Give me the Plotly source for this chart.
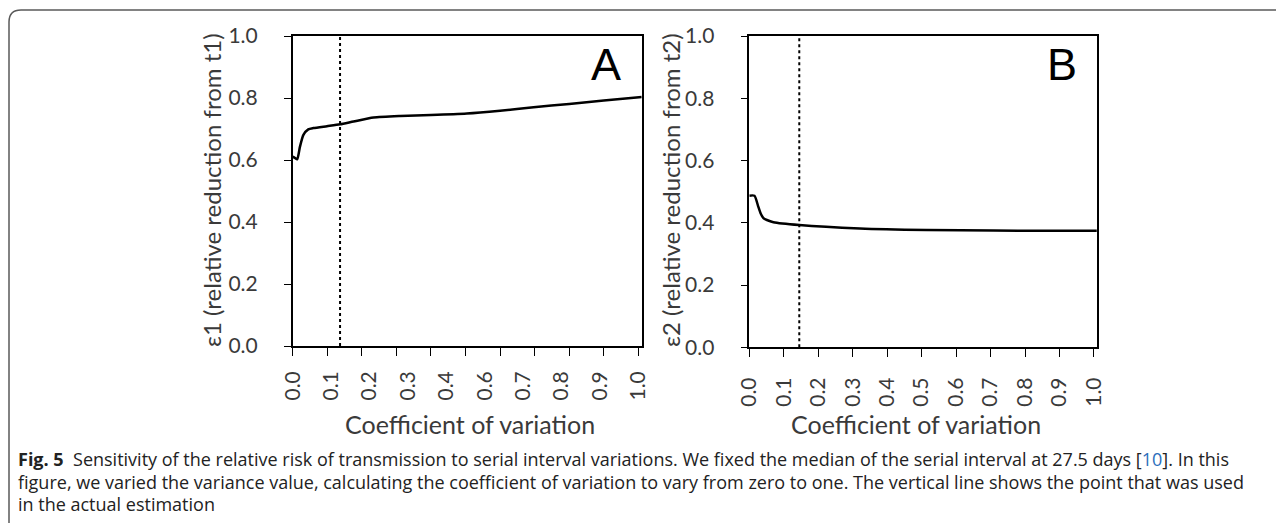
import plotly.graph_objects as go
import numpy as np

# ---------------- data ----------------
cv_a = [0.0, 0.006, 0.013, 0.021, 0.031, 0.045, 0.060, 0.099, 0.137, 0.176, 0.234, 0.311, 0.40, 0.504, 0.60, 0.697, 0.80, 0.90, 1.01]
eps1 = [0.611, 0.607, 0.602, 0.643, 0.681, 0.699, 0.703, 0.709, 0.715, 0.724, 0.737, 0.742, 0.745, 0.750, 0.759, 0.770, 0.781, 0.792, 0.803]

cv_b = [0.0, 0.015, 0.026, 0.033, 0.041, 0.051, 0.070, 0.145, 0.321, 0.514, 0.708, 1.008]
eps2 = [0.487, 0.487, 0.452, 0.430, 0.415, 0.409, 0.402, 0.393, 0.382, 0.377, 0.375, 0.374]

cv_used_a = 0.137
cv_used_b = 0.145

x_ticks = [0.0, 0.1, 0.2, 0.3, 0.4, 0.5, 0.6, 0.7, 0.8, 0.9, 1.0]
labels_a = ["0.0", "0.1", "0.2", "0.3", "0.4", "0.6", "0.7", "0.8", "0.9", "1.0"]
labels_b = ["0.0", "0.1", "0.2", "0.3", "0.4", "0.5", "0.6", "0.7", "0.8", "0.9", "1.0"]
y_ticks = [0.0, 0.2, 0.4, 0.6, 0.8, 1.0]
y_labels = ["0.0", "0.2", "0.4", "0.6", "0.8", "1.0"]

ytitle_a = "ε1 (relative reduction from t1)"
ytitle_b = "ε2 (relative reduction from t2)"
xtitle = "Coefficient of variation"
caption = [
    "<b>Fig. 5</b>  Sensitivity of the relative risk of transmission to serial interval variations. We fixed the median of the serial interval at 27.5 days [<span style='color:#2a6ebb'>10</span>]. In this",
    "figure, we varied the variance value, calculating the coefficient of variation to vary from zero to one. The vertical line shows the point that was used",
    "in the actual estimation",
]

# ---------------- figure ----------------
W, H = 1284, 523
OFF = 8  # the page body has an 8px margin; compensate so positions match the window
TICKFONT = dict(family="Lato, 'Open Sans', sans-serif", size=21, color="#3a3a3a")

fig = go.Figure()

fig.add_trace(go.Scatter(x=cv_a, y=eps1, mode="lines", line=dict(color="black", width=2.5, shape="spline", smoothing=0.6),
                         xaxis="x", yaxis="y", showlegend=False, hoverinfo="skip"))
fig.add_trace(go.Scatter(x=[cv_used_a, cv_used_a], y=[0, 1], mode="lines", line=dict(color="black", width=2, dash="dot"),
                         xaxis="x", yaxis="y", showlegend=False, hoverinfo="skip"))
fig.add_trace(go.Scatter(x=[None], y=[None], xaxis="x3", yaxis="y", showlegend=False, hoverinfo="skip"))

fig.add_trace(go.Scatter(x=cv_b, y=eps2, mode="lines", line=dict(color="black", width=2.5, shape="spline", smoothing=0.6),
                         xaxis="x2", yaxis="y2", showlegend=False, hoverinfo="skip"))
fig.add_trace(go.Scatter(x=[cv_used_b, cv_used_b], y=[0, 1], mode="lines", line=dict(color="black", width=2, dash="dot"),
                         xaxis="x2", yaxis="y2", showlegend=False, hoverinfo="skip"))


def px_x(p):
    return (p - OFF) / W


def px_y(p):
    return (H - (p - OFF)) / H


axis_common = dict(showgrid=False, zeroline=False, showline=True, linecolor="black", linewidth=1.5,
                   mirror=True, ticks="outside", tickcolor="black", tickwidth=1.2, tickfont=TICKFONT,
                   automargin=False)

xa_dom = [px_x(292.7), px_x(641.7)]
xb_dom = [px_x(749.3), px_x(1097.3)]
ya_dom = [px_y(346), px_y(36)]
yb_dom = [px_y(347.3), px_y(36)]

fig.update_layout(
    template="none",
    width=W, height=H, autosize=False,
    margin=dict(l=0, r=0, t=0, b=0, pad=0),
    paper_bgcolor="white", plot_bgcolor="white",
    xaxis=dict(axis_common, domain=xa_dom, range=[0, 1.0098], anchor="y", tickvals=x_ticks,
               showticklabels=False, ticklen=8),
    xaxis3=dict(domain=xa_dom, range=[0, 1.0098], anchor="y", overlaying="x", side="bottom",
                tickvals=list(np.linspace(0, 1, len(labels_a))), ticktext=labels_a, tickangle=-90,
                showgrid=False, zeroline=False, showline=False, ticks="", tickfont=TICKFONT,
                ticklabelstandoff=20, automargin=False),
    yaxis=dict(axis_common, domain=ya_dom, range=[0, 1], anchor="x", tickvals=y_ticks, ticktext=y_labels,
               ticklen=7, ticklabelstandoff=22),
    xaxis2=dict(axis_common, domain=xb_dom, range=[0, 1.0096], anchor="y2", tickvals=x_ticks, ticktext=labels_b,
                tickangle=-90, ticklen=8, ticklabelstandoff=12),
    yaxis2=dict(axis_common, domain=yb_dom, range=[0, 1], anchor="x2", tickvals=y_ticks, ticktext=y_labels,
                ticklen=7, ticklabelstandoff=22),
)

TITLEFONT = dict(family="Lato, 'Open Sans', sans-serif", size=24, color="#3a3a3a")
XTFONT = dict(family="Lato, 'Open Sans', sans-serif", size=25, color="#3a3a3a")
ann = [
    dict(text=ytitle_a, x=px_x(211), y=px_y(190), textangle=-90, font=TITLEFONT),
    dict(text=ytitle_b, x=px_x(670), y=px_y(190), textangle=-90, font=TITLEFONT),
    dict(text=xtitle, x=px_x(470), y=px_y(424), font=XTFONT),
    dict(text=xtitle, x=px_x(916), y=px_y(424), font=XTFONT),
    dict(text="A", x=px_x(606), y=px_y(64), font=dict(family="Liberation Sans, Arial", size=45, color="black")),
    dict(text="B", x=px_x(1062), y=px_y(64), font=dict(family="Liberation Sans, Arial", size=45, color="black")),
]
for a in ann:
    a.update(xref="paper", yref="paper", showarrow=False, xanchor="center", yanchor="middle")

cap_font = dict(family="'Open Sans', 'Noto Sans', sans-serif", size=18, color="#222")
for i, line in enumerate(caption):
    ann.append(dict(text=line, x=px_x(16), y=px_y(459 + 22.5 * i), xref="paper", yref="paper", showarrow=False,
                    xanchor="left", yanchor="middle", font=cap_font, align="left"))

fig.update_layout(annotations=ann)

# frame around the figure (rounded top-left corner, open to the right and bottom)
fig.add_shape(type="path", xref="paper", yref="paper",
              path=f"M {px_x(9)},{px_y(540)} L {px_x(9)},{px_y(22)} Q {px_x(9)},{px_y(10)} {px_x(21)},{px_y(10)} L {px_x(1300)},{px_y(10)}",
              line=dict(color="#5a5a5a", width=1.5))

fig.write_html("out.html")
